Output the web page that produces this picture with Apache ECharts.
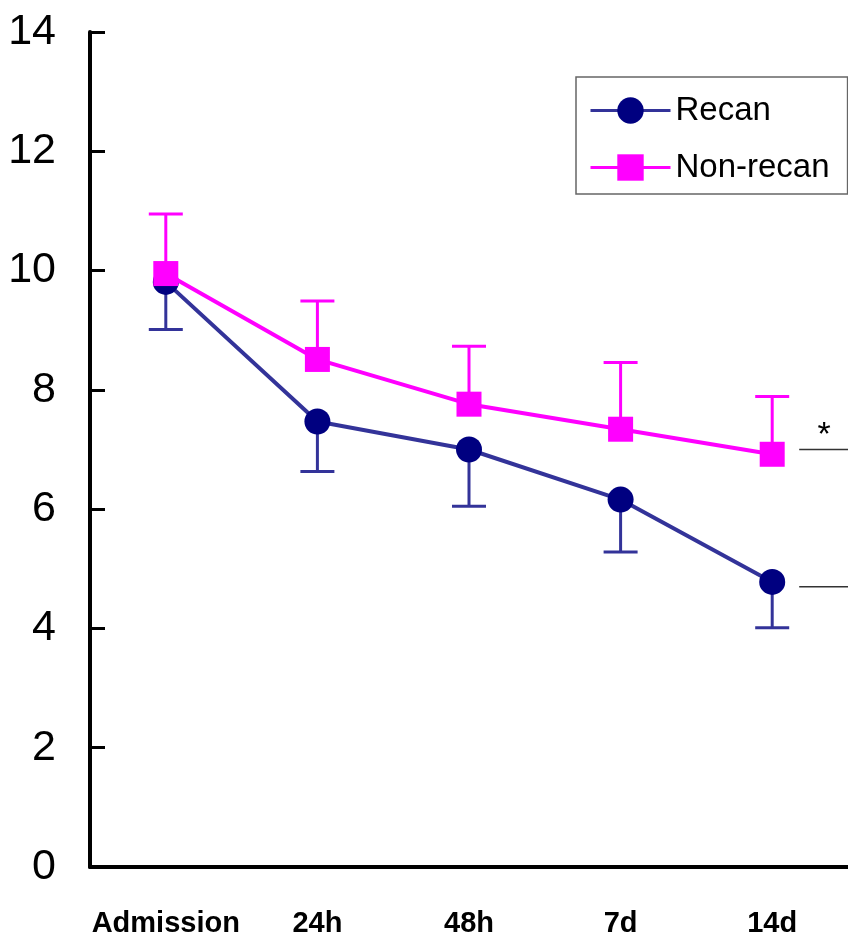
<!DOCTYPE html>
<html>
<head>
<meta charset="utf-8">
<script src="https://cdn.jsdelivr.net/npm/echarts@6/dist/echarts.min.js"></script>
<style>
  html, body { margin: 0; padding: 0; background: #fff; }
  #chart { width: 848px; height: 945px; }
</style>
</head>
<body>
<div id="chart"></div>
<script>
// Time points after admission
const categories = ['Admission', '24h', '48h', '7d', '14d'];

// Recanalized group: mean and SD
const recanMean = [9.81, 7.47, 7.00, 6.16, 4.78];
const recanSD   = [0.80, 0.84, 0.95, 0.88, 0.77];

// Non-recanalized group: mean and SD
const nonRecanMean = [9.95, 8.51, 7.76, 7.34, 6.92];
const nonRecanSD   = [1.00, 0.98, 0.97, 1.12, 0.97];

// Y axis ticks
const yTicks = [0, 2, 4, 6, 8, 10, 12, 14];

// Levels of the significance bracket at 14d
const sigLevels = [7.0, 4.7];
const sigMark = '*';

const RECAN_LINE = '#333399';
const RECAN_MARK = '#000080';
const NON_COLOR = '#ff00ff';

const chart = echarts.init(document.getElementById('chart'));

// One-sided SD bar: direction -1 draws downwards, +1 upwards
function errorBar(color, direction) {
  return function (params, api) {
    const idx = api.value(0);
    const mean = api.value(1);
    const sd = api.value(2);
    const p0 = api.coord([idx, mean]);
    const p1 = api.coord([idx, mean + direction * sd]);
    const half = 17;
    const style = { stroke: color, lineWidth: 3 };
    return {
      type: 'group',
      children: [
        { type: 'line', shape: { x1: p0[0], y1: p0[1], x2: p1[0], y2: p1[1] }, style: style },
        { type: 'line', shape: { x1: p1[0] - half, y1: p1[1], x2: p1[0] + half, y2: p1[1] }, style: style }
      ]
    };
  };
}

const recanErrData = recanMean.map((m, i) => [i, m, recanSD[i]]);
const nonErrData = nonRecanMean.map((m, i) => [i, m, nonRecanSD[i]]);

chart.setOption({
  animation: false,
  backgroundColor: '#ffffff',
  grid: { left: 90, right: -5, top: 32, bottom: 78, containLabel: false },
  legend: {
    data: ['Recan', 'Non-recan'],
    orient: 'vertical',
    left: 576,
    top: 77,
    padding: [17, 18, 10, 13],
    itemGap: 24,
    itemWidth: 80,
    itemHeight: 33,
    borderColor: '#666666',
    borderWidth: 1.5,
    borderRadius: 0,
    lineStyle: { width: 3 },
    textStyle: { fontFamily: 'Liberation Sans, Arial, sans-serif', fontSize: 33, color: '#000' }
  },
  xAxis: {
    type: 'category',
    data: categories,
    boundaryGap: true,
    axisLine: { lineStyle: { color: '#000', width: 4 } },
    axisTick: { inside: true, length: 11, lineStyle: { color: '#000', width: 3 } },
    axisLabel: {
      interval: 0,
      margin: 42,
      fontFamily: 'Liberation Sans, Arial, sans-serif',
      fontWeight: 'bold',
      fontSize: 29,
      color: '#000'
    },
    splitLine: { show: false }
  },
  yAxis: {
    type: 'value',
    min: yTicks[0],
    max: yTicks[yTicks.length - 1],
    interval: yTicks[1] - yTicks[0],
    axisLine: { show: true, lineStyle: { color: '#000', width: 4 } },
    axisTick: { show: true, inside: true, length: 15, lineStyle: { color: '#000', width: 3 } },
    axisLabel: {
      margin: 34,
      fontFamily: 'Liberation Sans, Arial, sans-serif',
      fontSize: 43,
      color: '#000'
    },
    splitLine: { show: false }
  },
  series: [
    {
      name: 'Recan SD',
      type: 'custom',
      renderItem: errorBar(RECAN_LINE, -1),
      data: recanErrData,
      encode: { x: 0, y: 1 },
      silent: true,
      z: 2
    },
    {
      name: 'Recan',
      type: 'line',
      data: recanMean,
      symbol: 'circle',
      symbolSize: 26,
      lineStyle: { color: RECAN_LINE, width: 4 },
      itemStyle: { color: RECAN_MARK },
      z: 3
    },
    {
      name: 'Non-recan SD',
      type: 'custom',
      renderItem: errorBar(NON_COLOR, 1),
      data: nonErrData,
      encode: { x: 0, y: 1 },
      silent: true,
      z: 4
    },
    {
      name: 'Non-recan',
      type: 'line',
      data: nonRecanMean,
      symbol: 'rect',
      symbolSize: 25,
      lineStyle: { color: NON_COLOR, width: 4 },
      itemStyle: { color: NON_COLOR },
      z: 5
    }
  ]
});

// Significance bracket to the right of the last time point
const lastX = chart.convertToPixel({ xAxisIndex: 0 }, categories[categories.length - 1]);
const width = chart.getWidth();
const y0 = chart.convertToPixel({ yAxisIndex: 0 }, sigLevels[0]);
const y1 = chart.convertToPixel({ yAxisIndex: 0 }, sigLevels[1]);
const x0 = lastX + 27;
chart.setOption({
  graphic: [
    { type: 'line', shape: { x1: x0, y1: y0, x2: width, y2: y0 }, style: { stroke: '#333', lineWidth: 1.5 } },
    { type: 'line', shape: { x1: x0, y1: y1, x2: width, y2: y1 }, style: { stroke: '#333', lineWidth: 1.5 } },
    {
      type: 'text',
      x: x0 + 25,
      y: y0 - 14,
      style: {
        text: sigMark,
        fontSize: 34,
        fontFamily: 'Liberation Sans, Arial, sans-serif',
        fill: '#000',
        align: 'center',
        verticalAlign: 'middle'
      }
    }
  ]
});
</script>
</body>
</html>
